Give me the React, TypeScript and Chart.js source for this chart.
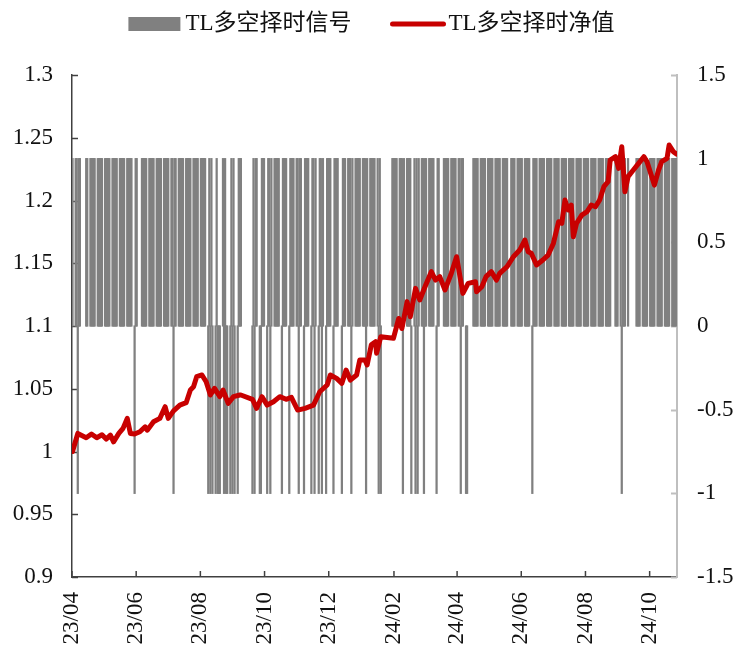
import React, { useEffect, useRef } from "react";
import { Chart, registerables } from "chart.js";

Chart.register(...registerables);

// ---------- data ----------
const START_DATE = "2023-04-21";
const END_DATE = "2024-11-15";

const tickDates = [
  "2023-04-21", "2023-06-21", "2023-08-21", "2023-10-21", "2023-12-21",
  "2024-02-21", "2024-04-21", "2024-06-21", "2024-08-21", "2024-10-21",
];
const tickLabels = ["23/04", "23/06", "23/08", "23/10", "23/12", "24/02", "24/04", "24/06", "24/08", "24/10"];

// exchange closed on these weekdays
const closedDays = [
  "2023-05-01", "2023-05-02", "2023-05-03", "2023-06-22", "2023-06-23", "2023-09-29",
  "2023-10-02", "2023-10-03", "2023-10-04", "2023-10-05", "2023-10-06",
  "2024-01-01", "2024-02-09", "2024-02-12", "2024-02-13", "2024-02-14", "2024-02-15",
  "2024-02-16", "2024-04-04", "2024-04-05", "2024-05-01", "2024-05-02", "2024-05-03",
  "2024-06-10", "2024-09-16", "2024-09-17", "2024-10-01", "2024-10-02", "2024-10-03",
  "2024-10-04", "2024-10-07",
];

// trading days with a short (-1) signal; all other trading days are long (+1)
const shortSignalDates = [
  "2023-04-26", "2023-06-19", "2023-07-26",
  "2023-08-28", "2023-08-30", "2023-09-01",
  "2023-09-04", "2023-09-06", "2023-09-07", "2023-09-08",
  "2023-09-12", "2023-09-14", "2023-09-15",
  "2023-09-18", "2023-09-20", "2023-09-22",
  "2023-09-25",
  "2023-10-09", "2023-10-11", "2023-10-16", "2023-10-17", "2023-10-23", "2023-10-26",
  "2023-11-06", "2023-11-13", "2023-11-22", "2023-11-27",
  "2023-12-04", "2023-12-07", "2023-12-11", "2023-12-14", "2023-12-18", "2023-12-25",
  "2024-01-02", "2024-01-11", "2024-01-25",
  "2024-02-06", "2024-02-08",
  "2024-02-29", "2024-03-08", "2024-03-12", "2024-03-14", "2024-03-20",
  "2024-04-01",
  "2024-04-24", "2024-04-29", "2024-04-30",
  "2024-07-01",
  "2024-09-24",
];

// net value samples: days after START_DATE and value
const navDays = [
  0, 5, 13, 18, 23, 28, 32, 36, 39, 44, 48, 52, 55, 59, 64, 69, 71, 77, 83, 88,
  91, 96, 102, 108, 112, 115, 118, 123, 127, 131, 135, 140, 143, 148, 153, 159, 160, 171, 175, 180,
  185, 191, 197, 203, 208, 214, 221, 229, 235, 242, 245, 251, 256, 260, 264, 270, 273, 278, 280, 284,
  288, 289, 293, 305, 310, 313, 318, 321, 326, 330, 335, 341, 345, 349, 354, 360, 365, 371, 376, 383,
  384, 389, 393, 398, 403, 406, 413, 419, 425, 430, 433, 436, 441, 447, 452, 457, 462, 465, 468, 471,
  474, 476, 479, 484, 489, 493, 497, 501, 505, 509, 511, 516, 519, 522, 525, 528, 533, 538, 543, 546,
  550, 553, 557, 560, 565, 567, 571, 574,
];
const navValues = [
  1.0, 1.0144, 1.011, 1.0139, 1.011, 1.0133, 1.0099, 1.013, 1.0077, 1.0144, 1.0184, 1.0264, 1.0144, 1.0139, 1.0157, 1.0197, 1.017, 1.0237, 1.0264, 1.0357,
  1.0264, 1.0324, 1.037, 1.0389, 1.049, 1.0516, 1.0596, 1.061, 1.0556, 1.045, 1.0503, 1.0437, 1.049, 1.0384, 1.0437, 1.045, 1.045, 1.0416, 1.0344, 1.0437,
  1.037, 1.0397, 1.0437, 1.0416, 1.0432, 1.033, 1.0344, 1.037, 1.0476, 1.053, 1.061, 1.0583, 1.0543, 1.0649, 1.0569, 1.061, 1.0729, 1.0729, 1.069, 1.085,
  1.0875, 1.0783, 1.0915, 1.0902, 1.106, 1.098, 1.1194, 1.1074, 1.13, 1.1207, 1.1313, 1.1433, 1.1366, 1.1393, 1.1287, 1.142, 1.1552, 1.126, 1.134, 1.1353,
  1.1273, 1.1313, 1.1393, 1.1433, 1.1366, 1.142, 1.1473, 1.1552, 1.1605, 1.1685, 1.1592, 1.1579, 1.1486, 1.1526, 1.1565, 1.1658, 1.1831, 1.1818, 1.2004, 1.1924,
  1.1964, 1.1711, 1.1818, 1.1884, 1.1911, 1.1964, 1.195, 1.2004, 1.211, 1.215, 1.2322, 1.2349, 1.2256, 1.2428, 1.207, 1.219, 1.2243, 1.2296, 1.2349, 1.2309,
  1.2203, 1.2123, 1.2243, 1.2309, 1.2336, 1.2442, 1.2389, 1.237,
];

const SIGNAL_LABEL = "TL多空择时信号";
const NAV_LABEL = "TL多空择时净值";

// ---------- styles ----------
const FONT = '"Liberation Serif", "Times New Roman", "Noto Sans CJK SC", serif';
const BAR_COLOR = "#808080";
const LINE_COLOR = "#C80000";
const TEXT_COLOR = "#111111";
const FONT_SIZE = 23;

const DAY_MS = 86400000;
const toUTC = (s: string) => {
  const [y, m, d] = s.split("-").map(Number);
  return Date.UTC(y, m - 1, d);
};
const START_MS = toUTC(START_DATE);
const dayIndex = (s: string) => Math.round((toUTC(s) - START_MS) / DAY_MS);
const isoOf = (ms: number) => new Date(ms).toISOString().slice(0, 10);

function buildSignal() {
  const closed = new Set(closedDays);
  const shorts = new Set(shortSignalDates);
  const last = dayIndex(END_DATE);
  const out: { x: number; y: number }[] = [];
  for (let d = 0; d <= last; d++) {
    const ms = START_MS + d * DAY_MS;
    const wd = new Date(ms).getUTCDay();
    if (wd === 0 || wd === 6) continue;
    const iso = isoOf(ms);
    if (closed.has(iso)) continue;
    out.push({ x: d + 0.5, y: shorts.has(iso) ? -1 : 1 });
  }
  return out;
}

const tickMarksPlugin = {
  id: "innerTickMarks",
  beforeDatasetsDraw(chart: any) {
    const { ctx, chartArea, scales } = chart;
    ctx.save();
    ctx.lineWidth = 1.5;
    ctx.strokeStyle = "#404040";
    scales.y.ticks.forEach((t: any) => {
      const p = Math.round(scales.y.getPixelForValue(t.value)) + 0.5;
      ctx.beginPath();
      ctx.moveTo(chartArea.left, p);
      ctx.lineTo(chartArea.left + 6, p);
      ctx.stroke();
    });
    scales.x.ticks.forEach((t: any) => {
      const p = scales.x.getPixelForValue(t.value);
      ctx.beginPath();
      ctx.moveTo(p, chartArea.bottom);
      ctx.lineTo(p, chartArea.bottom - 6);
      ctx.stroke();
    });
    ctx.strokeStyle = "#BFBFBF";
    ctx.lineWidth = 2;
    scales.y1.ticks.forEach((t: any) => {
      const p = Math.round(scales.y1.getPixelForValue(t.value)) + 0.5;
      ctx.beginPath();
      ctx.moveTo(chartArea.right, p);
      ctx.lineTo(chartArea.right - 6, p);
      ctx.stroke();
    });
    ctx.restore();
  },
};

const legendPlugin = {
  id: "topLegend",
  afterDraw(chart: any) {
    const { ctx } = chart;
    ctx.save();
    ctx.font = `${FONT_SIZE}px ${FONT}`;
    ctx.textBaseline = "middle";
    ctx.textAlign = "left";
    const w1 = ctx.measureText(SIGNAL_LABEL).width;
    const w2 = ctx.measureText(NAV_LABEL).width;
    const boxW = 52, boxH = 14, gapBoxText = 5, gapItems = 39, lineW = 55, gapLineText = 3;
    const total = boxW + gapBoxText + w1 + gapItems + lineW + gapLineText + w2;
    let x = 371.5 - total / 2;
    const cy = 24;
    ctx.fillStyle = BAR_COLOR;
    ctx.fillRect(x, cy - boxH / 2, boxW, boxH);
    x += boxW + gapBoxText;
    ctx.fillStyle = TEXT_COLOR;
    ctx.fillText(SIGNAL_LABEL, x, cy);
    x += w1 + gapItems;
    ctx.strokeStyle = LINE_COLOR;
    ctx.lineWidth = 5;
    ctx.lineCap = "round";
    ctx.beginPath();
    ctx.moveTo(x + 2, cy);
    ctx.lineTo(x + lineW - 2, cy);
    ctx.stroke();
    x += lineW + gapLineText;
    ctx.fillStyle = TEXT_COLOR;
    ctx.fillText(NAV_LABEL, x, cy);
    ctx.restore();
  },
};

export default function App() {
  const ref = useRef<HTMLCanvasElement>(null);

  useEffect(() => {
    if (!ref.current) return;
    const signal = buildSignal();
    const nav = navDays.map((d, i) => ({ x: d + 0.5, y: navValues[i] }));
    const totalDays = dayIndex(END_DATE) + 1;
    const tickPositions = tickDates.map(dayIndex);
    const tickFont = { family: FONT, size: FONT_SIZE };

    const chart = new Chart(ref.current, {
      type: "bar",
      data: {
        datasets: [
          {
            type: "bar",
            label: SIGNAL_LABEL,
            data: signal,
            yAxisID: "y1",
            xAxisID: "x",
            backgroundColor: BAR_COLOR,
            borderWidth: 0,
            barPercentage: 1,
            categoryPercentage: 1,
            inflateAmount: 0.6,
            order: 2,
          } as any,
          {
            type: "line",
            label: NAV_LABEL,
            data: nav,
            yAxisID: "y",
            xAxisID: "x",
            borderColor: LINE_COLOR,
            backgroundColor: LINE_COLOR,
            borderWidth: 5,
            pointRadius: 0,
            tension: 0,
            fill: false,
            borderJoinStyle: "round",
            borderCapStyle: "round",
            order: 1,
          } as any,
        ],
      },
      options: {
        animation: false,
        responsive: false,
        layout: { padding: { top: 75, left: 0, right: 0, bottom: 0 } },
        plugins: { legend: { display: false }, tooltip: { enabled: false } },
        scales: {
          x: {
            type: "linear",
            min: 0,
            max: totalDays,
            offset: false,
            grid: { display: false, drawTicks: false },
            border: { display: true, color: "#404040", width: 1.5 },
            afterBuildTicks: (scale: any) => {
              scale.ticks = tickPositions.map((v) => ({ value: v }));
            },
            afterFit: (scale: any) => {
              scale.height = 72;
            },
            ticks: {
              autoSkip: false,
              minRotation: 90,
              maxRotation: 90,
              padding: 15,
              color: TEXT_COLOR,
              font: tickFont,
              callback: (_v: any, i: number) => tickLabels[i],
            },
          },
          y: {
            type: "linear",
            position: "left",
            min: 0.9,
            max: 1.3,
            grid: { display: false, drawTicks: false },
            border: { display: true, color: "#404040", width: 1.5 },
            afterFit: (scale: any) => {
              scale.width = 72;
            },
            ticks: {
              stepSize: 0.05,
              padding: 19,
              color: TEXT_COLOR,
              font: tickFont,
              callback: (v: any) => String(Math.round(Number(v) * 100) / 100),
            },
          },
          y1: {
            type: "linear",
            position: "right",
            min: -1.5,
            max: 1.5,
            grid: { display: false, drawTicks: false },
            border: { display: true, color: "#BFBFBF", width: 2 },
            afterFit: (scale: any) => {
              scale.width = 58;
            },
            ticks: {
              stepSize: 0.5,
              padding: 20,
              color: TEXT_COLOR,
              font: tickFont,
              callback: (v: any) => String(Math.round(Number(v) * 10) / 10),
            },
          },
        },
      } as any,
      plugins: [tickMarksPlugin, legendPlugin],
    });
    return () => chart.destroy();
  }, []);

  return (
    <div style={{ position: "absolute", left: 0, top: 0, width: 735, height: 649, background: "#ffffff" }}>
      <canvas ref={ref} width={735} height={649} style={{ display: "block", width: 735, height: 649 }} />
    </div>
  );
}
